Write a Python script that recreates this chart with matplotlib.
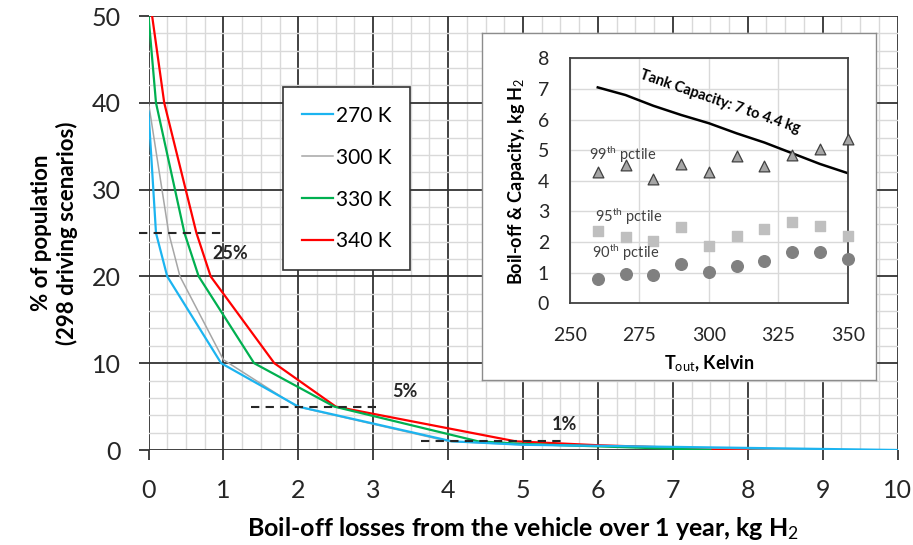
import matplotlib.pyplot as plt
from matplotlib.ticker import MultipleLocator

plt.rcParams['font.family'] = 'Lato'
plt.rcParams['mathtext.fontset'] = 'custom'
plt.rcParams['mathtext.rm'] = 'Lato'
plt.rcParams['mathtext.it'] = 'Lato:italic'
plt.rcParams['mathtext.bf'] = 'Lato:bold'

# Exceedance curves: boil-off loss (kg H2) vs % of driving scenarios
x_270 = [0, 0.1, 0.25, 0.97, 2.0, 4.05, 5.0, 10.0]
y_270 = [39, 25, 20, 10, 5, 1, 0.6, 0]
x_300 = [0, 0.27, 0.42, 1.0, 1.98, 4.0, 5.0, 9.0]
y_300 = [40, 25, 20, 10.4, 5, 1, 0.6, 0]
x_330 = [0, 0.1, 0.48, 0.67, 1.41, 2.48, 4.4, 5.0, 7.5]
y_330 = [50, 40, 25, 20, 10, 5, 1, 0.7, 0]
x_340 = [0, 0.21, 0.64, 0.83, 1.68, 2.5, 4.9, 6.0, 8.0]
y_340 = [53, 40, 25, 20, 10, 5, 1, 0.55, 0]

# reference percentile markers
pct_levels = [25, 5, 1]
pct_x_from = [-0.13, 1.37, 3.64]
pct_x_to = [1.03, 3.1, 5.58]
pct_text = ['25%', '5%', '1%']
pct_text_x = [0.85, 3.25, 5.39]
pct_text_y = [22.6, 6.7, 2.9]

# inset: boil-off percentiles and tank capacity vs outside temperature
t_out = [260, 270, 280, 290, 300, 310, 320, 330, 340, 350]
capacity = [7.05, 6.8, 6.45, 6.15, 5.88, 5.55, 5.25, 4.9, 4.55, 4.25]
p99 = [4.30, 4.50, 4.05, 4.55, 4.30, 4.81, 4.47, 4.84, 5.05, 5.38]
p95 = [2.37, 2.18, 2.05, 2.48, 1.88, 2.20, 2.42, 2.64, 2.54, 2.20]
p90 = [0.78, 0.96, 0.93, 1.27, 1.01, 1.23, 1.39, 1.69, 1.67, 1.44]

W, H = 913, 545
fig = plt.figure(figsize=(W / 100, H / 100), dpi=100)
ax = fig.add_axes([148.5 / W, 1 - 450 / H, 749 / W, 434 / H])

ax.plot(x_270, y_270, color='#1cb4f0', lw=1.6, label='270 K', zorder=5)
ax.plot(x_300, y_300, color='#a6a6a6', lw=1.1, label='300 K', zorder=4)
ax.plot(x_330, y_330, color='#00b050', lw=1.6, label='330 K', zorder=4)
ax.plot(x_340, y_340, color='#ff0000', lw=1.6, label='340 K', zorder=3)

for lvl, xa, xb in zip(pct_levels, pct_x_from, pct_x_to):
    ax.plot([xa, xb], [lvl, lvl], color='#262626', lw=1.5, ls=(0, (4, 3)),
            clip_on=False, zorder=6)
for t, tx, ty in zip(pct_text, pct_text_x, pct_text_y):
    ax.text(tx, ty, t, fontsize=13, fontweight='bold', color='#262626',
            va='center', ha='left', zorder=6)

ax.set_xlim(0, 10)
ax.set_ylim(0, 50)
ax.xaxis.set_major_locator(MultipleLocator(1))
ax.xaxis.set_minor_locator(MultipleLocator(0.25))
ax.yaxis.set_major_locator(MultipleLocator(10))
ax.yaxis.set_minor_locator(MultipleLocator(2))
ax.grid(which='minor', color='#d9d9d9', lw=1.0)
ax.grid(which='major', color='#333333', lw=1.3)
ax.set_axisbelow(True)
for s in ax.spines.values():
    s.set_visible(False)
ax.tick_params(which='major', length=7, width=1.3, color='#333333',
               labelsize=18, labelcolor='#262626')
ax.tick_params(axis='x', which='major', pad=14)
ax.tick_params(axis='y', which='major', pad=13)
ax.tick_params(which='minor', length=0)

ax.set_xlabel('Boil-off losses from the vehicle over 1 year, kg H$_2$',
              fontsize=18, fontweight='bold', labelpad=9)
ax.set_ylabel('% of population\n(298 driving scenarios)', fontsize=16,
              fontweight='bold', labelpad=10)

leg = ax.legend(loc='upper left', bbox_to_anchor=(283 / W, 1 - 87 / H),
                bbox_transform=fig.transFigure, fontsize=15, frameon=True,
                fancybox=False, edgecolor='#333333', framealpha=1,
                handlelength=1.5, handletextpad=0.15, labelspacing=1.05,
                borderpad=0.9, borderaxespad=0)
leg.get_frame().set_linewidth(1.2)
leg.set_zorder(10)

# white panel behind the inset
panel = fig.add_axes([481.7 / W, 1 - 380 / H, 394.3 / W, 347.3 / H])
panel.set_xticks([])
panel.set_yticks([])
for s in panel.spines.values():
    s.set_color('#8c8c8c')
    s.set_linewidth(1.0)
panel.set_zorder(11)

ins = fig.add_axes([570 / W, 1 - 303.3 / H, 277.7 / W, 245 / H])
ins.set_zorder(12)
ins.plot(t_out, capacity, color='black', lw=1.8)
ins.scatter(t_out, p99, marker='^', s=60, color='#a6a6a6',
            edgecolor='#404040', linewidth=0.9, zorder=3, clip_on=False)
ins.scatter(t_out, p95, marker='s', s=42, color='#bfbfbf', zorder=3,
            clip_on=False)
ins.scatter(t_out, p90, marker='o', s=70, color='#808080', zorder=3,
            clip_on=False)

ins.text(304, 6.58, 'Tank Capacity: 7 to 4.4 kg', fontsize=10.5,
         fontweight='bold', rotation=-19, ha='center', va='center')
ins.text(257, 4.85, '99$^{\\rm th}$ pctile', fontsize=10.5, color='#404040',
         ha='left', va='center')
ins.text(259, 2.83, '95$^{\\rm th}$ pctile', fontsize=10.5, color='#404040',
         ha='left', va='center')
ins.text(258, 1.65, '90$^{\\rm th}$ pctile', fontsize=10.5, color='#404040',
         ha='left', va='center')

ins.set_xlim(250, 350)
ins.set_ylim(0, 8)
ins.set_xticks([250, 275, 300, 325, 350])
ins.set_yticks(range(0, 9))
ins.grid(color='#d9d9d9', lw=1.0)
ins.set_axisbelow(True)
for s in ins.spines.values():
    s.set_color('#404040')
    s.set_linewidth(1.3)
ins.tick_params(length=0, labelsize=14, labelcolor='#262626')
ins.tick_params(axis='x', pad=17)
ins.tick_params(axis='y', pad=15)
ins.set_xlabel('T$_{\\rm out}$, Kelvin', fontsize=13, fontweight='bold',
               labelpad=7)
ins.set_ylabel('Boil-off & Capacity, kg H$_2$', fontsize=13,
               fontweight='bold', labelpad=8)

fig.savefig('out.png', dpi=100)
